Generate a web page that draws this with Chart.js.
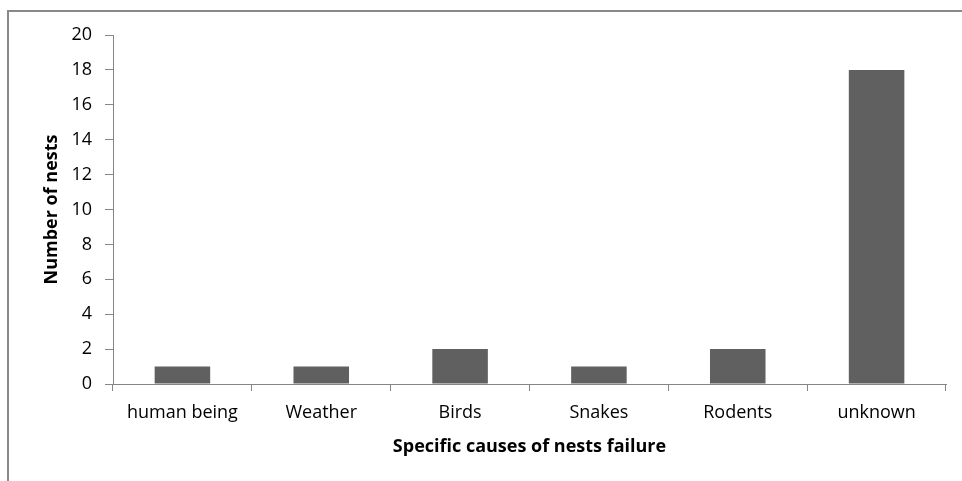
<!DOCTYPE html>
<html>
<head>
<meta charset="utf-8">
<script src="https://cdn.jsdelivr.net/npm/chart.js@4"></script>
<style>
  html, body { margin: 0; padding: 0; background: #fff; }
  #wrap { position: relative; width: 962px; height: 481px; overflow: hidden; }
  #frame { position: absolute; left: 7px; top: 10px; width: 1000px; height: 500px;
           border-top: 2px solid #898989; border-left: 2px solid #898989; }
  canvas { position: absolute; left: 0; top: 0; }
</style>
</head>
<body>
<div id="wrap">
  <div id="frame"></div>
  <canvas id="chart" width="962" height="481"></canvas>
</div>
<script>
// data
const causes = ['human being', 'Weather', 'Birds', 'Snakes', 'Rodents', 'unknown'];
const nests = [1, 1, 2, 1, 2, 18];

const tickFont = { family: 'Open Sans', size: 18 };
const titleFont = { family: 'Open Sans', size: 18, weight: 'bold' };

const ctx = document.getElementById('chart').getContext('2d');
const chart = new Chart(ctx, {
  type: 'bar',
  data: {
    labels: causes,
    datasets: [{
      label: 'Number of nests',
      data: nests,
      backgroundColor: '#606060',
      borderWidth: 0,
      barPercentage: 0.4,
      categoryPercentage: 1
    }]
  },
  options: {
    responsive: false,
    animation: false,
    layout: { padding: { left: 41, right: 16, top: 35, bottom: 0 } },
    plugins: { legend: { display: false }, tooltip: { enabled: false } },
    scales: {
      x: {
        offset: true,
        grid: { offset: true, drawOnChartArea: false, color: '#868686', tickLength: 7 },
        border: { color: '#868686' },
        ticks: { color: '#000', font: tickFont, padding: 11, maxRotation: 0 },
        title: { display: true, text: 'Specific causes of nests failure', color: '#000', font: titleFont, padding: { top: 0, bottom: 23 } },
        afterFit: s => { s.height = 97; }
      },
      y: {
        min: 0, max: 20,
        ticks: { stepSize: 2, color: '#000', font: tickFont, padding: 13 },
        grid: { drawOnChartArea: false, color: '#868686', tickLength: 8 },
        border: { color: '#868686' },
        title: { display: true, text: 'Number of nests', color: '#000', font: titleFont, padding: 0 },
        afterFit: s => { s.width = 72; }
      }
    }
  }
});
</script>
</body>
</html>
